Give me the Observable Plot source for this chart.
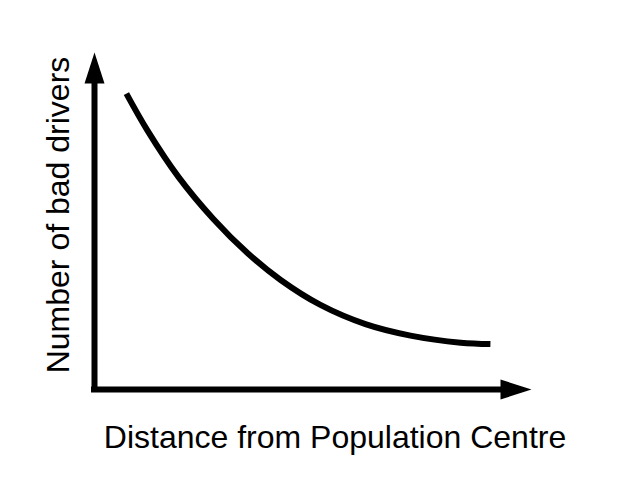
<!DOCTYPE html>
<html>
<head>
<meta charset="utf-8">
<script src="https://cdn.jsdelivr.net/npm/d3@7"></script>
<script src="https://cdn.jsdelivr.net/npm/@observablehq/plot@0.6"></script>
<style>
  html, body { margin: 0; padding: 0; background: #fff; }
</style>
</head>
<body>
<div id="chart"></div>
<script>
// Curve (arbitrary units, axes 0..10)
const distance   = [0.73, 1.21, 1.92, 2.72, 3.50, 4.26, 5.17, 6.20, 7.23, 8.38, 9.06];
const badDrivers = [8.78, 7.69, 6.31, 5.06, 4.05, 3.25, 2.51, 1.94, 1.60, 1.39, 1.35];
const axisMax = [10];
const xAxisLabel = ["Distance from Population Centre"];
const yAxisLabel = ["Number of bad drivers"];

const data = distance.map((d, i) => ({distance: d, drivers: badDrivers[i]}));

const arrowUp = {draw(ctx) { ctx.moveTo(0, 0); ctx.lineTo(10, 31); ctx.lineTo(-10, 31); ctx.closePath(); }};
const arrowRight = {draw(ctx) { ctx.moveTo(0, 0); ctx.lineTo(-31, -10); ctx.lineTo(-31, 10); ctx.closePath(); }};

const chart = Plot.plot({
  width: 640,
  height: 495,
  marginLeft: 94,
  marginRight: 109,
  marginTop: 52,
  marginBottom: 106,
  style: {fontFamily: "'Liberation Sans', Arial, sans-serif", background: "#fff", color: "#000"},
  x: {domain: [0, 10], axis: null},
  y: {domain: [0, 10], axis: null},
  marks: [
    Plot.ruleX([0], {y1: 0, y2: 9.3, stroke: "#000", strokeWidth: 6, strokeLinecap: "square"}),
    Plot.ruleY([0], {x1: 0, x2: 9.4, stroke: "#000", strokeWidth: 6, strokeLinecap: "square"}),
    Plot.dot(axisMax, {x: 0, y: d => d, symbol: arrowUp, fill: "#000", stroke: null}),
    Plot.dot(axisMax, {x: d => d, y: 0, symbol: arrowRight, fill: "#000", stroke: null}),
    Plot.line(data, {x: "distance", y: "drivers", curve: "catmull-rom", stroke: "#000", strokeWidth: 6, strokeLinecap: "butt"}),
    Plot.text(xAxisLabel, {text: d => d, frameAnchor: "bottom", lineAnchor: "bottom", dy: 58, dx: 22, fontSize: 32, fill: "#000"}),
    Plot.text(yAxisLabel, {text: d => d, frameAnchor: "left", textAnchor: "middle", lineAnchor: "bottom", rotate: -90, dx: -26, dy: -6, fontSize: 32, fill: "#000"})
  ]
});
document.getElementById("chart").appendChild(chart);
</script>
</body>
</html>
